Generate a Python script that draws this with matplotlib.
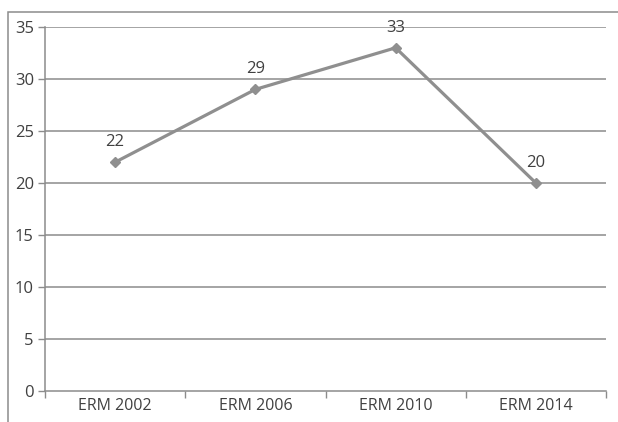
import matplotlib
matplotlib.use("Agg")
import matplotlib.pyplot as plt
from matplotlib.patches import Rectangle

categories = ["ERM 2002", "ERM 2006", "ERM 2010", "ERM 2014"]
values = [22, 29, 33, 20]
yticks = [0, 5, 10, 15, 20, 25, 30, 35]

plt.rcParams['font.family'] = ['Open Sans', 'DejaVu Sans']

fig = plt.figure(figsize=(6.18, 4.22), dpi=100)
fig.patch.set_facecolor('white')
ax = fig.add_axes([45/618, 31/422, (606-45)/618, (391-27)/422])

grid_c = '#8c8c8c'
text_c = '#404040'

x = list(range(len(categories)))
ax.plot(x, values, color='#8f8f8f', lw=2.3, marker='D', markersize=5.5,
        markerfacecolor='#8f8f8f', markeredgecolor='#8f8f8f', zorder=3, clip_on=False)
for xi, v in zip(x, values):
    ax.annotate(str(v), (xi, v), xytext=(0, 11.5), textcoords='offset points',
                ha='center', va='baseline', fontsize=12, color=text_c)

ax.set_xlim(-0.5, len(categories) - 0.5)
ax.set_ylim(0, 35)
ax.set_yticks(yticks)
ax.set_yticklabels([str(t) for t in yticks], fontsize=12, color=text_c)
for t in yticks[1:]:
    ax.axhline(t, color=grid_c, lw=1.1, zorder=1)

ax.set_xticks([i + 0.5 for i in range(-1, len(categories))])
ax.set_xticklabels([])
ax.set_xticks(x, minor=True)
ax.set_xticklabels(categories, minor=True, fontsize=11.5, color=text_c)
ax.tick_params(axis='x', which='minor', length=0, pad=5)
ax.tick_params(axis='x', which='major', length=5, color=grid_c, width=1)
ax.tick_params(axis='y', length=5, color=grid_c, width=1, pad=3)

for s in ['top', 'right']:
    ax.spines[s].set_visible(False)
for s in ['left', 'bottom']:
    ax.spines[s].set_color(grid_c)
    ax.spines[s].set_linewidth(1.1)

border = Rectangle((8/618, -0.1), 1.2, (422-12)/422 + 0.1, transform=fig.transFigure,
                   fill=False, edgecolor='#8c8c8c', lw=1.1, clip_on=False)
fig.patches.append(border)

fig.savefig('out.png', dpi=100)
